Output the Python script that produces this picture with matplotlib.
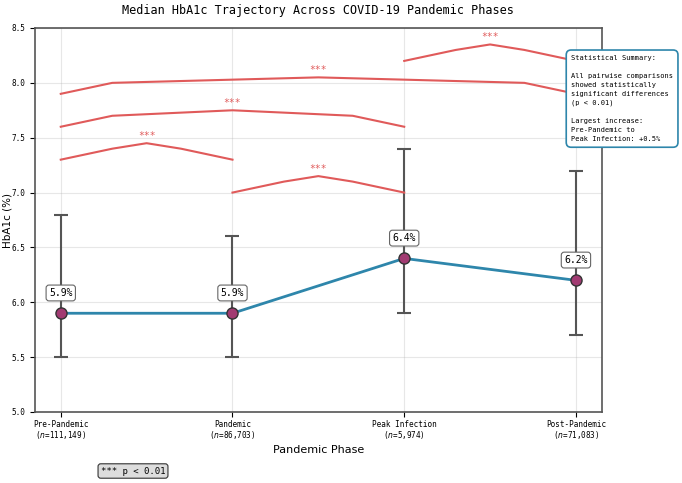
import matplotlib
matplotlib.use('Agg')
from matplotlib import pyplot as plt

# podaci sa grafika
faze = ['Pre-Pandemic', 'Pandemic', 'Peak Infection', 'Post-Pandemic']
broj = ['111,149', '86,703', '5,974', '71,083']
medijana = [5.9, 5.9, 6.4, 6.2]
donja = [5.5, 5.5, 5.9, 5.7]
gornja = [6.8, 6.6, 7.4, 7.2]

# parovi za oznake znacajnosti i visina osnove
parovi = [(0, 1), (0, 2), (0, 3), (1, 2), (2, 3)]
visine = [7.3, 7.6, 7.9, 7.0, 8.2]

plt.rcParams['font.family'] = ['DejaVu Sans Mono']

fig = plt.figure(figsize=(6.82, 4.83), dpi=100)
ax = fig.add_axes([35 / 682, 1 - 412 / 483, 566.7 / 682, 384 / 483])

x = list(range(len(faze)))
greska = [[m - d for m, d in zip(medijana, donja)],
          [g - m for m, g in zip(medijana, gornja)]]

ax.errorbar(x, medijana, yerr=greska, fmt='none', ecolor='#555555',
            elinewidth=1.5, capsize=5, capthick=1.5, zorder=2)
ax.plot(x, medijana, color='#2E86AB', linewidth=2, zorder=3)
ax.plot(x, medijana, 'o', markersize=8, markerfacecolor='#A23B72',
        markeredgecolor='#333333', markeredgewidth=1, zorder=4)

for xi, m in zip(x, medijana):
    ax.annotate(f'{m:.1f}%', (xi, m), xytext=(0, 11), textcoords='offset points',
                ha='center', va='bottom', fontsize=7,
                bbox=dict(boxstyle='round,pad=0.3', fc='white', ec='#666666', lw=0.8))

crvena = '#E05A5A'
for (a, b), h in zip(parovi, visine):
    xs = [a, a + 0.3, (a + b) / 2, b - 0.3, b]
    ys = [h, h + 0.1, h + 0.15, h + 0.1, h]
    ax.plot(xs, ys, color=crvena, linewidth=1.5, zorder=2)
    ax.text((a + b) / 2, h + 0.17, '***', ha='center', va='bottom',
            color=crvena, fontsize=7)

ax.set_xlim(-0.15, 3.15)
ax.set_ylim(5.0, 8.5)
ax.set_xticks(x)
ax.set_xticklabels([f'{f}\n($n$={n})' for f, n in zip(faze, broj)], fontsize=5.5,
                   linespacing=1.0)
ax.tick_params(axis='y', labelsize=5.5)
ax.tick_params(axis='x', pad=2)
ax.grid(True, alpha=0.3)
for s in ax.spines.values():
    s.set_color('#555555')
    s.set_linewidth(1.2)

ax.set_xlabel('Pandemic Phase', fontsize=8, family='DejaVu Sans', labelpad=3)
ax.set_ylabel('HbA1c (%)', fontsize=7.5, family='DejaVu Sans')
ax.yaxis.set_label_coords(-0.04, 0.5)
ax.set_title('Median HbA1c Trajectory Across COVID-19 Pandemic Phases',
             fontsize=8.5, pad=10)

tekst = ('Statistical Summary:\n\n'
         'All pairwise comparisons\n'
         'showed statistically\n'
         'significant differences\n'
         '(p < 0.01)\n\n'
         'Largest increase:\n'
         'Pre-Pandemic to\n'
         'Peak Infection: +0.5%')
ax.text(0.946, 0.93, tekst, transform=ax.transAxes, fontsize=5, va='top', ha='left',
        linespacing=1.6,
        bbox=dict(boxstyle='round,pad=0.7', fc='white', ec='#2E86AB', lw=1.2))

fig.text(133 / 682, 1 - 471 / 483, '*** p < 0.01', ha='center', va='center', fontsize=6.5,
         bbox=dict(boxstyle='round,pad=0.3', fc='#DDDDDD', ec='#333333', lw=0.8))

fig.savefig('out.png', dpi=100)
